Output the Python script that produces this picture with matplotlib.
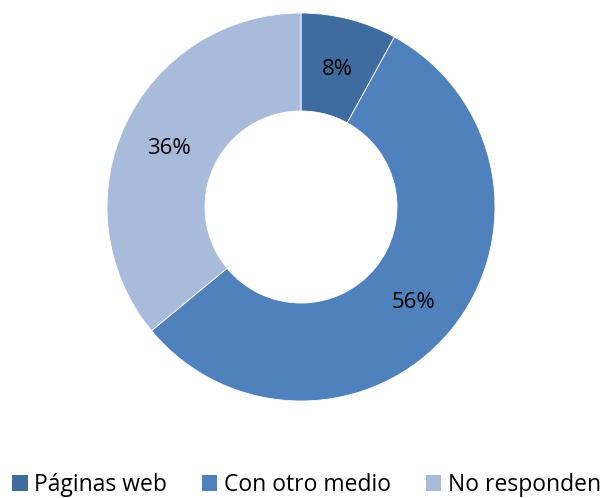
import matplotlib.pyplot as plt
import matplotlib.transforms as mtransforms
from matplotlib.patches import Patch

labels = ['Páginas web', 'Con otro medio', 'No responden']
values = [8, 56, 36]
colors = ['#3F6B9F', '#4F81BD', '#A9BBDB']

plt.rcParams['font.family'] = ['Open Sans', 'DejaVu Sans']

fig = plt.figure(figsize=(6.07, 4.98), dpi=100)
ax = fig.add_axes([107 / 607, 97 / 498, 388 / 607, 388 / 498])

wedges, texts, autotexts = ax.pie(
    values, colors=colors, startangle=90, counterclock=False, radius=1,
    autopct='%1.0f%%', pctdistance=0.75,
    wedgeprops=dict(width=0.505, edgecolor='white', linewidth=0.6),
    textprops=dict(fontsize=16, color='black'))
# nudge the percentages down a few pixels
shift = mtransforms.ScaledTranslation(0, -3 / 100, fig.dpi_scale_trans)
for t in autotexts:
    t.set_transform(t.get_transform() + shift)
ax.set_xlim(-1, 1)
ax.set_ylim(-1, 1)
ax.set_aspect('equal')
ax.axis('off')

handles = [Patch(facecolor=c, edgecolor='none') for c in colors]
fig.legend(handles, labels, loc='center left',
           bbox_to_anchor=(12 / 607, 13 / 498),
           ncol=3, frameon=False, fontsize=16.5, handlelength=0.68,
           handleheight=0.72, handletextpad=0.3, columnspacing=1.5,
           borderaxespad=0, borderpad=0)

fig.savefig('out.png', dpi=100)
